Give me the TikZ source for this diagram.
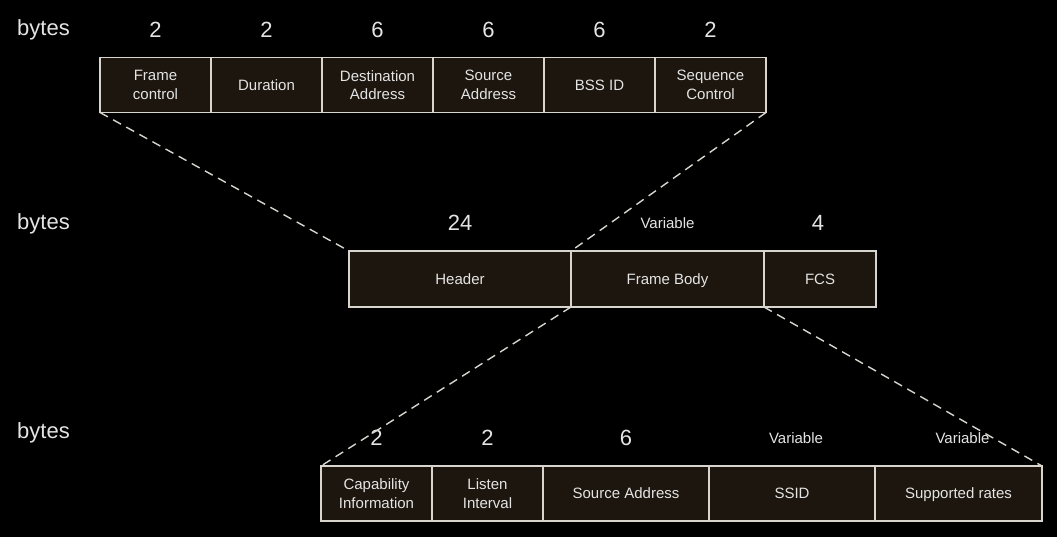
\documentclass[tikz,border=0pt]{standalone}
\usepackage{fontspec}
\setmainfont{Liberation Sans}
\usetikzlibrary{positioning}
\definecolor{boxfill}{RGB}{28,22,14}
\definecolor{boxline}{RGB}{215,213,205}
\definecolor{txt}{RGB}{228,228,228}
\tikzset{field/.style={draw=boxline, fill=boxfill, line width=1.2pt, text=txt, align=center, minimum height=55pt, inner sep=0pt, outer sep=0pt, text depth=0pt, font=\fontsize{15}{18.5}\selectfont}}
\tikzset{num/.style={text=txt, font=\fontsize{22}{26}\selectfont, inner sep=0pt}}
\tikzset{var/.style={text=txt, font=\fontsize{15}{18}\selectfont, inner sep=0pt}}
\tikzset{zoomline/.style={draw=boxline, line width=1.4pt, dash pattern=on 9pt off 6pt}}

\begin{document}
\begin{tikzpicture}[x=1pt,y=-1pt]
\fill[black] (0,0) rectangle (1057,537);
\useasboundingbox (0,0) rectangle (1057,537);
% row labels
\node[num, anchor=base west] (by1) at (17,36) {bytes};
\node[num, anchor=base west] (by2) at (17,230) {bytes};
\node[num, anchor=base west] (by3) at (17,438) {bytes};
% MAC header
\node[field, minimum width=111pt, anchor=west] (fc) at (100,85) {Frame\\control};
\node[field, minimum width=111pt, right=0pt of fc] (dur) {Duration};
\node[field, minimum width=111pt, right=0pt of dur] (dst) {Destination\\Address};
\node[field, minimum width=111pt, right=0pt of dst] (src) {Source\\Address};
\node[field, minimum width=111pt, right=0pt of src] (bss) {BSS ID};
\node[field, minimum width=111pt, right=0pt of bss] (seq) {Sequence\\Control};
\foreach \n/\v in {fc/2,dur/2,dst/6,src/6,bss/6,seq/2}
  \node[num] (\n-len) at ([yshift=28pt]\n.north) {\v};
% frame
\node[field, minimum width=222pt, minimum height=56pt, anchor=west] (hdr) at (349,279) {Header};
\node[field, minimum width=193pt, minimum height=56pt, right=0pt of hdr] (body) {Frame Body};
\node[field, minimum width=112pt, minimum height=56pt, right=0pt of body] (fcs) {FCS};
\node[num] (hdr-len) at ([yshift=28pt]hdr.north) {24};
\node[var] (body-len) at ([yshift=28pt]body.north) {Variable};
\node[num] (fcs-len) at ([yshift=28pt,xshift=-2pt]fcs.north) {4};
% frame body
\node[field, minimum width=111pt, anchor=west] (cap) at (321,493.5) {Capability\\Information};
\node[field, minimum width=111pt, right=0pt of cap] (lis) {Listen\\Interval};
\node[field, minimum width=166pt, right=0pt of lis] (sa) {Source Address};
\node[field, minimum width=166pt, right=0pt of sa] (ssid) {SSID};
\node[field, minimum width=167pt, right=0pt of ssid] (rates) {Supported rates};
\foreach \n/\v in {cap/2,lis/2,sa/6}
  \node[num] (\n-len) at ([yshift=28pt]\n.north) {\v};
\foreach \n in {ssid,rates}
  \node[var] (\n-len) at ([yshift=28pt,xshift=4pt]\n.north) {Variable};
% zoom lines
\draw[zoomline] (fc.south west) -- (hdr.north west);
\draw[zoomline] (seq.south east) -- (body.north west);
\draw[zoomline] (body.south west) -- (cap.north west);
\draw[zoomline] (body.south east) -- (rates.north east);
\end{tikzpicture}
\end{document}
